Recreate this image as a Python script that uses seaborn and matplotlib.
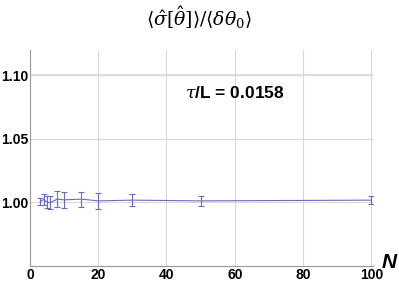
import matplotlib
matplotlib.use("Agg")
import matplotlib.pyplot as plt
import numpy as np
import pandas as pd
import seaborn as sns
from matplotlib.ticker import MultipleLocator

# values
N = [3, 4, 5, 6, 8, 10, 15, 20, 30, 50, 100]
ratio = [1.0005, 1.002, 1.000, 0.9997, 1.0024, 1.0018, 1.0024, 1.001, 1.0016, 1.001, 1.0016]
err = [0.0026, 0.0042, 0.0047, 0.005, 0.0065, 0.0065, 0.006, 0.006, 0.005, 0.0037, 0.003]

df = pd.DataFrame({"N": N, "ratio": ratio, "err": err})

sns.set_style("white")
plt.rcParams['font.family'] = ['Liberation Sans', 'DejaVu Sans']
plt.rcParams['mathtext.fontset'] = 'dejavuserif'

col = "#6a6ac0"
fig = plt.figure(figsize=(3.99, 2.85), dpi=100)
ax = fig.add_axes([0.075, 0.068, 0.86, 0.757])

sns.lineplot(data=df, x="N", y="ratio", color=col, lw=0.8, ax=ax)
ax.errorbar(df["N"], df["ratio"], yerr=df["err"], fmt="none", ecolor=col,
            elinewidth=0.8, capsize=2, capthick=0.8)

ax.set_xlim(0, 100.5)
ax.set_ylim(0.95, 1.12)
ax.xaxis.set_major_locator(MultipleLocator(20))
ax.xaxis.set_minor_locator(MultipleLocator(5))
ax.set_yticks([1.00, 1.05, 1.10])
ax.yaxis.set_minor_locator(MultipleLocator(0.01))
ax.set_yticklabels(["1.00", "1.05", "1.10"])

ax.grid(True, which="major", color="#d8d8d8", lw=0.8)
ax.axhline(1.10, color="#e0e0e0", lw=1.6, zorder=0)
for s in ["top", "right"]:
    ax.spines[s].set_visible(False)
for s in ["left", "bottom"]:
    ax.spines[s].set_color("#999999")
    ax.spines[s].set_linewidth(0.8)

ax.tick_params(which="major", direction="in", length=4, color="#999999", width=0.8,
               labelsize=10, labelcolor="black")
ax.tick_params(which="minor", direction="in", length=2, color="#999999", width=0.6)
for lab in ax.get_xticklabels() + ax.get_yticklabels():
    lab.set_fontweight("bold")
ax.tick_params(axis="y", pad=1)
ax.tick_params(axis="x", pad=2)

ax.set_xlabel("")
ax.set_ylabel("")

ax.text(60, 1.086, r"$\tau$/L = 0.0158", fontsize=12.5, fontweight="bold",
        color="black", ha="center", va="center")
fig.text(0.975, 0.08, "N", fontsize=15, fontweight="bold", style="italic",
         color="black", ha="center", va="center")
fig.text(0.5, 0.94, r"$\langle\hat{\sigma}[\hat{\theta}]\rangle/\langle\delta\theta_0\rangle$",
         fontsize=13.5, color="black", ha="center", va="center")

fig.savefig("out.png", dpi=100)
